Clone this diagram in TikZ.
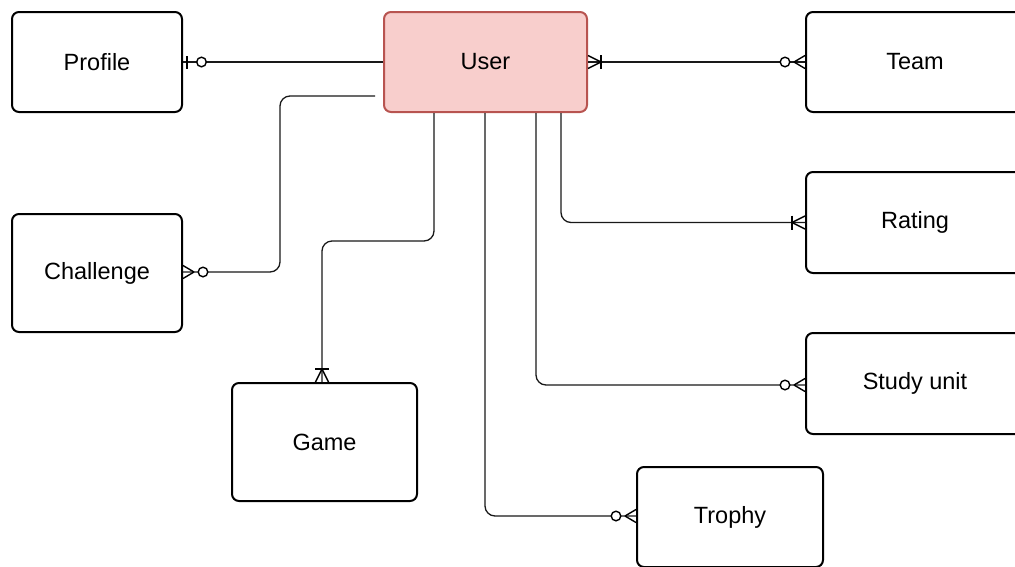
\documentclass[tikz,border=0pt]{standalone}
\usepackage{fontspec}
\setmainfont{Liberation Sans}
\definecolor{userfill}{HTML}{F8CECC}
\definecolor{userdraw}{HTML}{B85450}
\tikzset{
  entity/.style={draw=black, line width=2pt, rounded corners=7pt, fill=white,
    font=\fontsize{23.5}{28}\selectfont, inner sep=0pt},
  conn/.style={draw=black!90, line width=1.3pt, rounded corners=10pt},
  crowmark/.style={draw=black, line width=1.4pt},
  zeromany/.pic={
    \draw[crowmark] (-11,0) -- (0,-6.5) (-11,0) -- (0,6.5);
    \draw[crowmark, fill=white] (-20,0) circle (4.8pt);
  },
  onemany/.pic={
    \draw[crowmark] (-13,0) -- (0,-6.5) (-13,0) -- (0,6.5);
    \draw[crowmark] (-13,-7) -- (-13,7);
  },
  zeroone/.pic={
    \draw[crowmark] (-4,-6.5) -- (-4,6.5);
    \draw[crowmark, fill=white] (-18.5,0) circle (4.8pt);
  }
}
\begin{document}
\begin{tikzpicture}[x=1pt, y=-1pt]
\useasboundingbox (0,0) rectangle (1015,566);
\clip (0,0) rectangle (1015,566);
% entities
\node[entity, minimum width=170pt, minimum height=100pt] (profile) at (97,62) {Profile};
\node[entity, draw=userdraw, fill=userfill, minimum width=203pt, minimum height=100pt] (user) at (485.5,62) {User};
\node[entity, minimum width=218pt, minimum height=100pt] (team) at (915,62) {Team};
\node[entity, minimum width=170pt, minimum height=118pt] (challenge) at (97,273) {Challenge};
\node[entity, minimum width=218pt, minimum height=101pt] (rating) at (915,222.5) {Rating};
\node[entity, minimum width=218pt, minimum height=101pt] (study) at (915,383.5) {Study unit};
\node[entity, minimum width=185pt, minimum height=118pt] (game) at (324.5,442) {Game};
\node[entity, minimum width=186pt, minimum height=100pt] (trophy) at (730,517) {Trophy};
% connectors
\coordinate (chstart) at (375,96);
\coordinate (chend) at ([yshift=1]challenge.east);
\draw[conn] (profile.east) -- (user.west);
\draw[conn] (user.east) -- (team.west);
\draw[conn] (chstart) -- (280,96) -- (280,272) -- (chend);
\draw[conn] ([xshift=-51.5]user.south) -- ++(0,128) -| ([xshift=-2.5]game.north);
\draw[conn] ([xshift=75.5]user.south) |- (rating.west);
\draw[conn] ([xshift=50.5]user.south) |- ([yshift=-1.5]study.west);
\draw[conn] ([xshift=-0.5]user.south) |- ([yshift=1]trophy.west);
% cardinality marks
\pic[rotate=180] at (profile.east) {zeroone};
\pic[rotate=180] at (user.east) {onemany};
\pic at (team.west) {zeromany};
\pic[rotate=180] at (chend) {zeromany};
\pic[rotate=-90] at ([xshift=-2.5]game.north) {onemany};
\pic at (rating.west) {onemany};
\pic at ([yshift=-1.5]study.west) {zeromany};
\pic at ([yshift=1]trophy.west) {zeromany};
\end{tikzpicture}
\end{document}
